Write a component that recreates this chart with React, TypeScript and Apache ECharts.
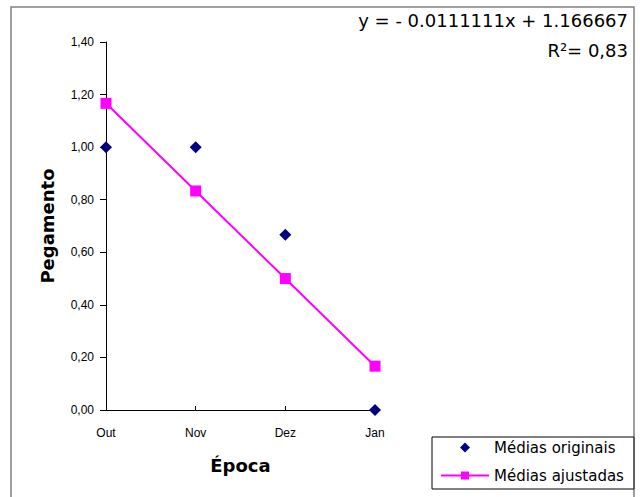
import React, { useEffect, useRef } from "react";
import * as echarts from "echarts";

const categories = ["Out", "Nov", "Dez", "Jan"];
const originais = [1.0, 1.0, 0.6667, 0.0];
const ajustadas = [1.1667, 0.8333, 0.5, 0.1667];
const yTicks = { min: 0, max: 1.4, interval: 0.2 };
const equation = "y = - 0.0111111x + 1.166667";
const r2 = "R²= 0,83";

export default function App() {
  const ref = useRef<HTMLDivElement>(null);
  useEffect(() => {
    const chart = echarts.init(ref.current!, null, { renderer: "svg" });
    const font = "Arial, 'Liberation Sans', sans-serif";
    const wide = "'DejaVu Sans', sans-serif";
    chart.setOption({
      animation: false,
      backgroundColor: "#fff",
      textStyle: { fontFamily: font },
      grid: { left: 106, right: 265, top: 42, bottom: 87 },
      xAxis: {
        type: "category",
        data: categories,
        boundaryGap: false,
        name: "Época",
        nameLocation: "middle",
        nameGap: 46,
        nameTextStyle: { fontSize: 18, fontWeight: "bold", color: "#000", fontFamily: wide },
        axisLine: { lineStyle: { color: "#000", width: 1 } },
        axisTick: { inside: true, length: 4, lineStyle: { color: "#000" } },
        axisLabel: { color: "#000", fontSize: 12, margin: 17, fontFamily: font },
        splitLine: { show: false },
      },
      yAxis: {
        type: "value",
        min: yTicks.min,
        max: yTicks.max,
        interval: yTicks.interval,
        name: "Pegamento",
        nameLocation: "middle",
        nameGap: 50,
        nameRotate: 90,
        nameTextStyle: { fontSize: 18, fontWeight: "bold", color: "#000", fontFamily: wide },
        axisLine: { show: true, lineStyle: { color: "#000", width: 1 } },
        axisTick: { show: true, length: 6, lineStyle: { color: "#000" } },
        axisLabel: {
          color: "#000",
          fontSize: 12,
          margin: 12,
          fontFamily: font,
          formatter: (v: number) => v.toFixed(2).replace(".", ","),
        },
        splitLine: { show: false },
      },
      legend: {
        orient: "vertical",
        left: 432,
        top: 437,
        height: 80,
        itemWidth: 48,
        itemHeight: 10,
        itemGap: 13,
        itemTextGap: 4,
        padding: [3, 10, 6, 8],
        borderColor: "#000",
        borderWidth: 1,
        backgroundColor: "#fff",
        textStyle: { fontSize: 15, color: "#000", fontFamily: wide },
        data: [
          {
            name: "Médias originais",
            icon: "path://M5,0L10,5L5,10L0,5Z",
            itemStyle: { color: "#000080" },
          },
          { name: "Médias ajustadas" },
        ],
      },
      series: [
        {
          name: "Médias originais",
          type: "scatter",
          data: originais,
          symbol: "diamond",
          symbolSize: 12,
          itemStyle: { color: "#000080", opacity: 1 },
          z: 3,
        },
        {
          name: "Médias ajustadas",
          type: "line",
          data: ajustadas,
          symbol: "rect",
          symbolSize: 11,
          showAllSymbol: true,
          lineStyle: { color: "#FF00FF", width: 2 },
          itemStyle: { color: "#FF00FF" },
          z: 2,
        },
      ],
      graphic: [
        {
          type: "rect",
          shape: { x: 11, y: 7, width: 623, height: 510 },
          style: { fill: "none", stroke: "#808080", lineWidth: 1.5 },
          silent: true,
          z: -1,
        },
        {
          type: "text",
          right: 12,
          top: 11,
          style: { text: equation, fontSize: 18, fill: "#000", fontFamily: wide },
        },
        {
          type: "text",
          right: 12,
          top: 41,
          style: { text: r2, fontSize: 18, fill: "#000", fontFamily: wide },
        },
      ],
    });
    return () => chart.dispose();
  }, []);
  return (
    <div
      ref={ref}
      style={{ position: "absolute", left: 0, top: 0, width: 640, height: 497 }}
    />
  );
}
